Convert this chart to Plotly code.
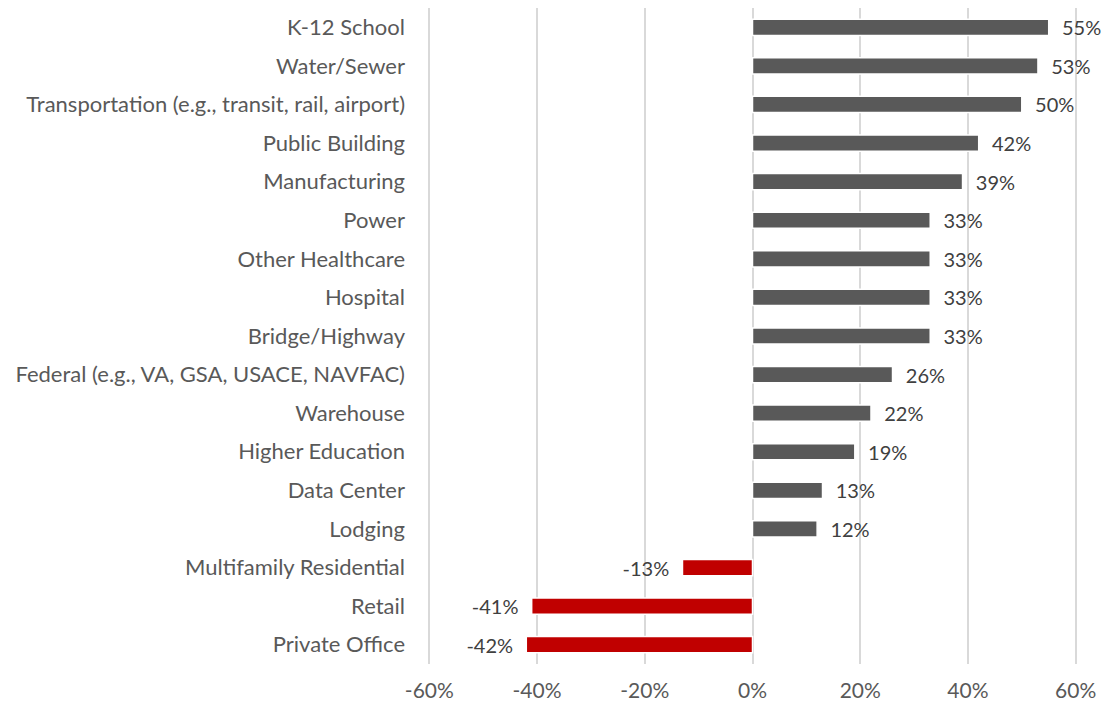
import plotly.graph_objects as go

categories = ["K-12 School", "Water/Sewer", "Transportation (e.g., transit, rail, airport)",
              "Public Building", "Manufacturing", "Power", "Other Healthcare", "Hospital",
              "Bridge/Highway", "Federal (e.g., VA, GSA, USACE, NAVFAC)", "Warehouse",
              "Higher Education", "Data Center", "Lodging", "Multifamily Residential",
              "Retail", "Private Office"]
values = [55, 53, 50, 42, 39, 33, 33, 33, 33, 26, 22, 19, 13, 12, -13, -41, -42]
tick_vals = [-60, -40, -20, 0, 20, 40, 60]
tick_text = ["-60%", "-40%", "-20%", "0%", "20%", "40%", "60%"]

colors = ["#595959" if v >= 0 else "#C00000" for v in values]
texts = [("  %d%%" % v) if v >= 0 else ("%d%%  " % v) for v in values]

font_family = "Lato, 'Open Sans', sans-serif"

fig = go.Figure()
fig.add_trace(go.Bar(
    y=categories, x=values, orientation="h",
    marker=dict(color=colors, line=dict(color="white", width=1.5)),
    width=0.42,
    text=texts, textposition="outside", cliponaxis=False, constraintext="none",
    textfont=dict(family=font_family, size=20, color="#404040"),
    hoverinfo="skip",
))
fig.update_layout(
    width=1101, height=699,
    margin=dict(l=420, r=32, t=0, b=43),
    plot_bgcolor="white", paper_bgcolor="white",
    showlegend=False,
    font=dict(family=font_family, size=22, color="#595959"),
)
fig.update_xaxes(range=[-60.25, 60.25], tickvals=tick_vals, ticktext=tick_text,
                 automargin=False,
                 showgrid=True, gridcolor="#d9d9d9", gridwidth=1.5,
                 zeroline=True, zerolinecolor="#d9d9d9", zerolinewidth=1.5,
                 showline=False, ticks="", ticklen=0, ticklabelstandoff=12,
                 tickfont=dict(size=21, color="#595959"))
fig.update_yaxes(categoryorder="array", categoryarray=categories[::-1],
                 automargin=False,
                 showgrid=False, zeroline=False, showline=False, ticks="",
                 ticklabelstandoff=22,
                 tickfont=dict(size=22, color="#595959"))
fig.write_html("out.html")
